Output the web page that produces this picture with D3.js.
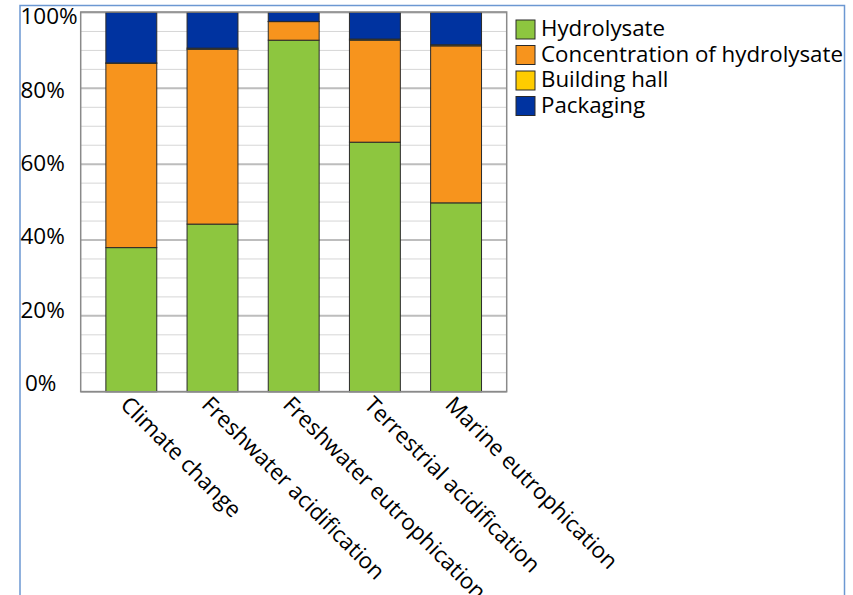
<!DOCTYPE html>
<html>
<head>
<meta charset="utf-8">
<script src="https://cdn.jsdelivr.net/npm/d3@7"></script>
<style>
  html, body { margin: 0; padding: 0; background: #fff; }
  svg { display: block; }
  text { font-family: "Open Sans", "Noto Sans", sans-serif; fill: #000; }
</style>
</head>
<body>
<svg id="chart" width="853" height="595"></svg>
<script>
const categories = ["Climate change", "Freshwater acidification", "Freshwater eutrophication", "Terrestrial acidification", "Marine eutrophication"];
const seriesNames = ["Hydrolysate", "Concentration of hydrolysate", "Building hall", "Packaging"];
const seriesColors = ["#8DC63F", "#F7941D", "#FFCC00", "#0033A0"];
const hydrolysate   = [38.0, 44.2, 92.7, 65.8, 49.8];
const concentration = [48.6, 46.1, 4.9, 26.9, 41.4];
const buildingHall  = [0.1, 0.3, 0.05, 0.3, 0.3];
const packaging     = [13.3, 9.4, 2.35, 7.0, 8.5];
const yTickValues = [0, 20, 40, 60, 80, 100];
const yTickLabels = ["0%", "20%", "40%", "60%", "80%", "100%"];
const yMinorValues = d3.range(0, 101, 5);

const svg = d3.select("#chart");

// outer frame
svg.append("rect").attr("x", 20).attr("y", 5.5).attr("width", 824.5).attr("height", 600)
  .attr("fill", "none").attr("stroke", "#6C98D2").attr("stroke-width", 1.5);

const plot = {left: 80.7, right: 506.7, top: 12.5, bottom: 391.7};

const x = d3.scaleBand().domain(categories).range([plot.left, plot.right])
  .paddingInner(0.373).paddingOuter(0.31);
const y = d3.scaleLinear().domain([0, 100]).range([plot.bottom, plot.top]);
const yLabel = d3.scaleLinear().domain([0, 100]).range([383, 16]);

const g = svg.append("g");

// minor grid
g.selectAll("line.minor").data(yMinorValues.filter(v => v % 20 !== 0)).join("line")
  .attr("x1", plot.left).attr("x2", plot.right)
  .attr("y1", d => y(d)).attr("y2", d => y(d))
  .attr("stroke", "#D6D6D6").attr("stroke-width", 1);
// major grid
g.selectAll("line.major").data(yTickValues).join("line")
  .attr("x1", plot.left).attr("x2", plot.right)
  .attr("y1", d => y(d)).attr("y2", d => y(d))
  .attr("stroke", "#BDBDBD").attr("stroke-width", 2);

// stacked bars
const rows = categories.map((c, i) => ({cat: c, s0: hydrolysate[i], s1: concentration[i], s2: buildingHall[i], s3: packaging[i]}));
const stack = d3.stack().keys(["s0", "s1", "s2", "s3"]);
const layers = stack(rows);
layers.forEach((layer, li) => {
  g.append("g").selectAll("rect").data(layer).join("rect")
    .attr("x", d => x(d.data.cat))
    .attr("width", x.bandwidth())
    .attr("y", d => y(d[1]))
    .attr("height", d => y(d[0]) - y(d[1]))
    .attr("fill", seriesColors[li])
    .attr("stroke", "#2a2a2a").attr("stroke-width", 1);
});

// plot frame
g.append("rect").attr("x", plot.left).attr("y", plot.top - 0.5)
  .attr("width", plot.right - plot.left).attr("height", plot.bottom - plot.top + 0.5)
  .attr("fill", "none").attr("stroke", "#8A8A8A").attr("stroke-width", 1.5);

// y tick labels
g.selectAll("text.ytick").data(yTickValues).join("text")
  .attr("x", (d, i) => i === 0 ? 25 : 20.5)
  .attr("y", d => yLabel(d))
  .attr("dy", "0.36em")
  .attr("font-size", 22.5)
  .text((d, i) => yTickLabels[i]);

// x labels
g.selectAll("text.xlab").data(categories).join("text")
  .attr("transform", d => `translate(${x(d) + x.bandwidth() / 2 - 12},406) rotate(45)`)
  .attr("font-size", 22.3)
  .text(d => d);

// legend
const leg = svg.append("g");
seriesNames.forEach((name, i) => {
  const cy = 29.5 + i * 25.5;
  leg.append("rect").attr("x", 516).attr("y", cy - 9.5).attr("width", 19).attr("height", 19)
    .attr("fill", seriesColors[i]).attr("stroke", "#2a2a2a").attr("stroke-width", 1);
  leg.append("text").attr("x", 541).attr("y", cy + 6.5).attr("font-size", 22.3).text(name);
});
</script>
</body>
</html>
